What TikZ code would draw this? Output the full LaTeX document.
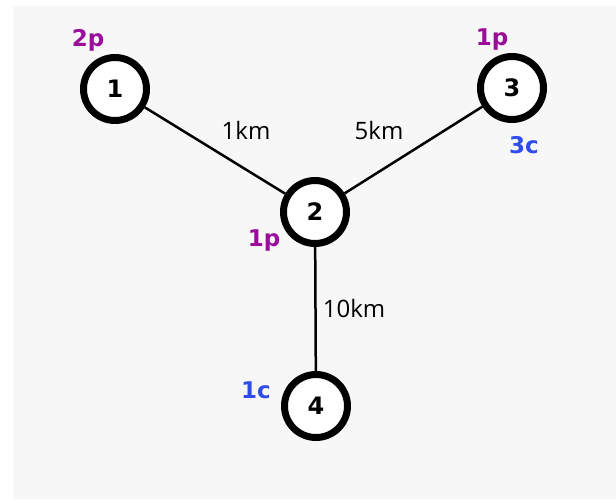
\documentclass[tikz,border=0pt]{standalone}
\usepackage{fontspec}
\setmainfont{Open Sans}
\newfontfamily\boldlab{DejaVu Sans}
\definecolor{bgray}{HTML}{F7F7F7}
\definecolor{lpurple}{HTML}{9A0C9A}
\definecolor{lblue}{HTML}{2F4CEB}
\tikzset{
  vtx/.style={circle, draw=black, line width=7pt, fill=white, minimum size=63pt, inner sep=0pt,
    font=\boldlab\bfseries\fontsize{24}{24}\selectfont},
  edge/.style={line width=2.5pt, black},
  dist/.style={font=\fontsize{24}{24}\selectfont, inner sep=0pt},
  plab/.style={font=\boldlab\bfseries\fontsize{23}{23}\selectfont, text=lpurple, inner sep=0pt},
  clab/.style={font=\boldlab\bfseries\fontsize{23}{23}\selectfont, text=lblue, inner sep=0pt}
}
\begin{document}
\begin{tikzpicture}[x=1pt,y=-1pt]
\useasboundingbox (0,0) rectangle (616,499);
\fill[bgray] (13,6) rectangle (616,499);
\node[vtx] (n1) at (115,89) {1};
\node[vtx] (n2) at (315,212) {2};
\node[vtx] (n3) at (512,88) {3};
\node[vtx] (n4) at (316,406) {4};
\draw[edge] (n1) -- (n2);
\draw[edge] (n3) -- (n2);
\draw[edge] (n2) -- (n4);
\node[dist] (d12) at (246,130) {1km};
\node[dist] (d23) at (379,130) {5km};
\node[dist] (d24) at (354,308) {10km};
\node[plab] (p1) at (88,40) {2p};
\node[plab] (p3) at (492,40) {1p};
\node[clab] (c3) at (524,145) {3c};
\node[plab] (p2) at (264,241) {1p};
\node[clab] (c4) at (256,390) {1c};
\end{tikzpicture}
\end{document}
